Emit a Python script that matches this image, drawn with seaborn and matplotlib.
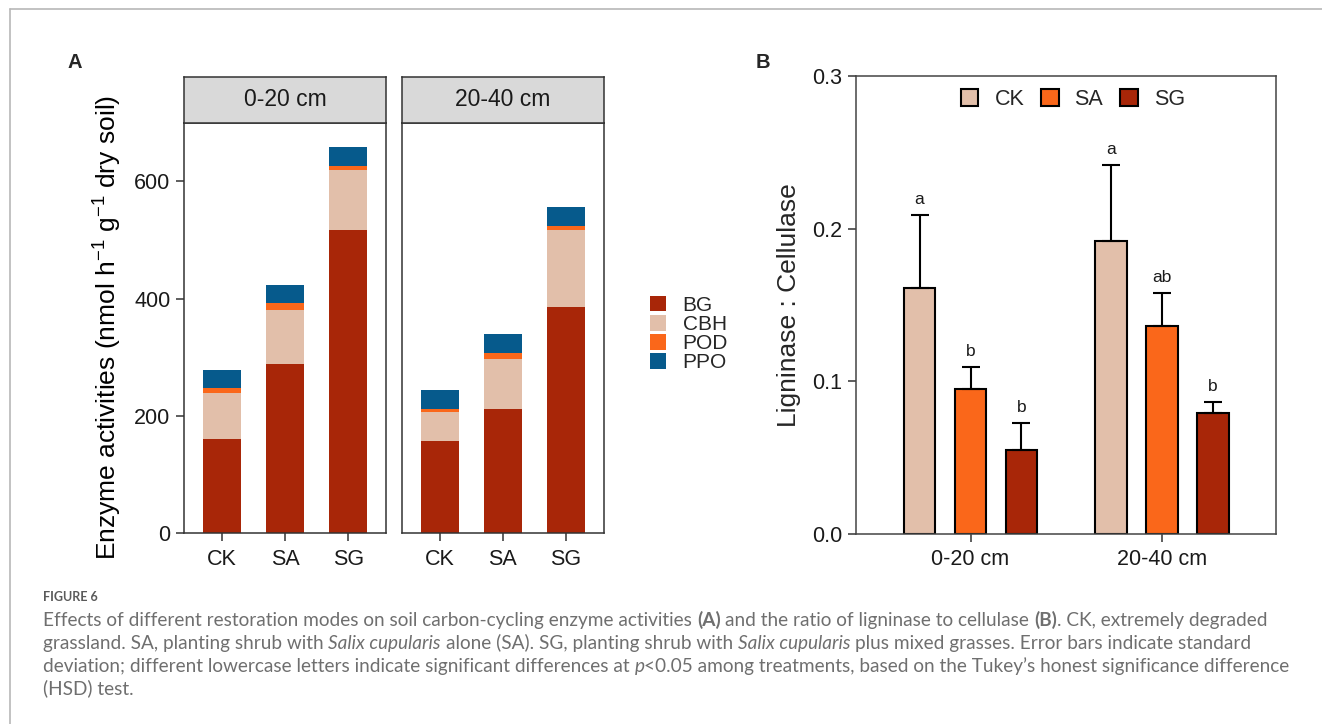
import matplotlib
matplotlib.use("Agg")
import numpy as np
import pandas as pd
import matplotlib.pyplot as plt
import seaborn as sns
from matplotlib.patches import Patch
from matplotlib.lines import Line2D

# ---- values ----
depths = ["0-20 cm", "20-40 cm"]
treatments = ["CK", "SA", "SG"]
enzymes = ["BG", "CBH", "POD", "PPO"]

# panel A, enzyme activities (nmol h-1 g-1 dry soil), per treatment CK/SA/SG
bg_0_20 = [161, 288, 517]
cbh_0_20 = [79, 93, 103]
pod_0_20 = [7, 11, 6]
ppo_0_20 = [32, 31, 32]
bg_20_40 = [157, 212, 385]
cbh_20_40 = [50, 86, 132]
pod_20_40 = [5, 9, 7]
ppo_20_40 = [32, 32, 32]

# panel B, ligninase : cellulase
ratio_0_20 = [0.161, 0.095, 0.055]
sd_0_20 = [0.048, 0.014, 0.0176]
ratio_20_40 = [0.192, 0.136, 0.079]
sd_20_40 = [0.0497, 0.022, 0.0072]
letters_0_20 = ["a", "b", "b"]
letters_20_40 = ["a", "ab", "b"]

enzyme_colors = {"BG": "#A82608", "CBH": "#E2BFAA", "POD": "#FA671A", "PPO": "#065A8C"}
treat_colors = ["#E2BFAA", "#FA671A", "#A82608"]

W, H = 1322, 724
sns.set_style("white")
plt.rcParams["font.family"] = ["Liberation Sans", "DejaVu Sans"]
plt.rcParams["mathtext.fontset"] = "custom"
plt.rcParams["mathtext.rm"] = "Liberation Sans"
plt.rcParams["mathtext.it"] = "Liberation Sans:italic"
plt.rcParams["mathtext.bf"] = "Liberation Sans:bold"

fig = plt.figure(figsize=(W / 100, H / 100), dpi=100)


def px_axes(x0, y0, x1, y1):
    return fig.add_axes([x0 / W, 1 - y1 / H, (x1 - x0) / W, (y1 - y0) / H])


def style_frame(ax, color="#333333", lw=1.1):
    for s in ax.spines.values():
        s.set_visible(True)
        s.set_color(color)
        s.set_linewidth(lw)


# ---- panel A: stacked bars, faceted by depth ----
rows = []
layers = {
    "0-20 cm": [bg_0_20, cbh_0_20, pod_0_20, ppo_0_20],
    "20-40 cm": [bg_20_40, cbh_20_40, pod_20_40, ppo_20_40],
}
for depth in depths:
    for enz, vals in zip(enzymes, layers[depth]):
        for t, v in zip(treatments, vals):
            rows.append({"depth": depth, "enzyme": enz, "treatment": t, "activity": v})
dfA = pd.DataFrame(rows)
dfA["top"] = dfA.groupby(["depth", "treatment"])["activity"].cumsum()

panel_x = [(184.3, 386.2), (401.8, 604.0)]
for i, depth in enumerate(depths):
    x0, x1 = panel_x[i]
    ax = px_axes(x0, 122.7, x1, 533.3)
    sub = dfA[dfA["depth"] == depth]
    # draw from the cumulative top downwards so each layer shows
    for enz in reversed(enzymes):
        d = sub[sub["enzyme"] == enz]
        sns.barplot(data=d, x="treatment", y="top", order=treatments,
                    color=enzyme_colors[enz], width=0.6, saturation=1,
                    linewidth=0, errorbar=None, ax=ax)
    ax.set_xlim(-0.6, 2.6)
    ax.set_ylim(0, 700)
    ax.set_yticks([0, 200, 400, 600])
    ax.set_xlabel("")
    ax.set_ylabel("")
    style_frame(ax)
    ax.tick_params(axis="both", direction="out", length=6, width=1.1,
                   color="#333333", labelcolor="#1a1a1a")
    ax.tick_params(axis="y", labelsize=15.5, pad=4, left=True)
    ax.tick_params(axis="x", labelsize=15.5, pad=5.5, bottom=True)
    if i == 1:
        ax.tick_params(axis="y", left=False, labelleft=False)

    strip = px_axes(x0, 77.2, x1, 122.7)
    strip.set_facecolor("#D9D9D9")
    strip.set_xticks([])
    strip.set_yticks([])
    style_frame(strip)
    strip.text(0.5, 0.5, depth, ha="center", va="center", fontsize=16.5,
               color="#1a1a1a", transform=strip.transAxes)

fig.text(107.5 / W, 1 - 327.5 / H,
         "Enzyme activities (nmol h$^{-1}$ g$^{-1}$ dry soil)",
         rotation=90, ha="center", va="center", fontsize=19, color="black")

handles_A = [Patch(facecolor=enzyme_colors[e], edgecolor="none") for e in enzymes]
fig.legend(handles_A, enzymes, loc="center left",
           bbox_to_anchor=(650 / W, 1 - 334 / H), frameon=False, fontsize=15,
           handlelength=0.77, handleheight=0.77, handletextpad=0.8,
           labelspacing=0.0, borderpad=0, borderaxespad=0)

fig.text(67 / W, 1 - 62 / H, "A", fontsize=14.5, fontweight="bold",
         ha="left", va="center")

# ---- panel B: grouped bars with SD and letters ----
dfB = pd.DataFrame({
    "depth": np.repeat(depths, len(treatments)),
    "treatment": treatments * len(depths),
    "ratio": ratio_0_20 + ratio_20_40,
    "sd": sd_0_20 + sd_20_40,
    "letter": letters_0_20 + letters_20_40,
})

axB = px_axes(855.8, 76.2, 1276.4, 533.5)
sns.barplot(data=dfB, x="depth", y="ratio", hue="treatment", order=depths,
            hue_order=treatments, palette=treat_colors, width=0.8, gap=0.375,
            saturation=1, edgecolor="black", linewidth=1.5, errorbar=None,
            legend=False, ax=axB)

for t, cont in zip(treatments, axB.containers):
    for depth, bar in zip(depths, cont):
        row = dfB[(dfB["treatment"] == t) & (dfB["depth"] == depth)].iloc[0]
        xc = bar.get_x() + bar.get_width() / 2
        h = bar.get_height()
        axB.errorbar(xc, h, yerr=[[0], [row["sd"]]], fmt="none", ecolor="black",
                     elinewidth=1.5, capsize=6.5, capthick=1.5, zorder=1)
        axB.text(xc, h + row["sd"] + 0.0072, row["letter"], ha="center",
                 va="baseline", fontsize=12.5, color="#1a1a1a")

axB.set_xlim(-0.6, 1.6)
axB.set_ylim(0, 0.3)
axB.set_yticks([0, 0.1, 0.2, 0.3])
axB.set_yticklabels(["0.0", "0.1", "0.2", "0.3"])
axB.set_xlabel("")
axB.set_ylabel("Ligninase : Cellulase", fontsize=19, labelpad=8)
style_frame(axB, color="#444444", lw=1.1)
axB.tick_params(axis="both", direction="out", length=6, width=1.1,
                color="#333333", labelcolor="#1a1a1a", labelsize=15.5)
axB.tick_params(axis="y", pad=4, left=True)
axB.tick_params(axis="x", pad=5.5, bottom=True)

handles_B = [Patch(facecolor=c, edgecolor="black", linewidth=1.5) for c in treat_colors]
axB.legend(handles_B, treatments, loc="center", ncol=3,
           bbox_to_anchor=(1073 / W, 1 - 99.5 / H), bbox_transform=fig.transFigure,
           frameon=False, fontsize=15.5, handlelength=0.8, handleheight=0.8,
           handletextpad=0.74, columnspacing=0.8, borderpad=0, borderaxespad=0)

fig.text(756 / W, 1 - 62 / H, "B", fontsize=14.5, fontweight="bold",
         ha="left", va="center")

# ---- caption and frame ----
frame_col = "#b8b8b8"
fig.add_artist(Line2D([10 / W, 1], [1 - 9 / H, 1 - 9 / H], color=frame_col, lw=1.2))
fig.add_artist(Line2D([10 / W, 10 / W], [0, 1 - 9 / H], color=frame_col, lw=1.2))

renderer = fig.canvas.get_renderer()
cap_col = "#6f6f6f"
cap_family = ["Lato", "DejaVu Sans"]

line1 = [("Effects of different restoration modes on soil carbon-cycling enzyme activities ", "normal", "normal"),
         ("(A)", "bold", "normal"),
         (" and the ratio of ligninase to cellulase ", "normal", "normal"),
         ("(B)", "bold", "normal"),
         (". CK, extremely degraded", "normal", "normal")]
line2 = [("grassland. SA, planting shrub with ", "normal", "normal"),
         ("Salix cupularis", "normal", "italic"),
         (" alone (SA). SG, planting shrub with ", "normal", "normal"),
         ("Salix cupularis", "normal", "italic"),
         (" plus mixed grasses. Error bars indicate standard", "normal", "normal")]
line3 = [("deviation; different lowercase letters indicate significant differences at ", "normal", "normal"),
         ("p", "normal", "italic"),
         ("<0.05 among treatments, based on the Tukey\u2019s honest significance difference", "normal", "normal")]
line4 = [("(HSD) test.", "normal", "normal")]


def text_width(s, fs, weight="normal", style="normal"):
    t = fig.text(0, 0, s, fontsize=fs, family=cap_family, weight=weight, style=style)
    w = t.get_window_extent(renderer).width
    t.remove()
    return w


# size the caption so its first line spans the same width as in the figure
probe = 12.0
w1 = text_width("".join(r[0] for r in line1), probe)
cap_fs = probe * (1268 - 43) / w1


def draw_runs(x, baseline, runs):
    space = text_width("n n", cap_fs) - text_width("nn", cap_fs)
    for txt, weight, style in runs:
        lead = len(txt) - len(txt.lstrip(" "))
        trail = len(txt) - len(txt.rstrip(" "))
        x += lead * space
        core = txt.strip(" ")
        t = fig.text(x / W, 1 - baseline / H, core, fontsize=cap_fs, family=cap_family,
                     weight=weight, style=style, color=cap_col, ha="left", va="baseline")
        x = t.get_window_extent(renderer).x1 + trail * space


fig.text(43 / W, 1 - 601 / H, "FIGURE 6", fontsize=9, family=cap_family,
         weight="bold", color="#5a5a5a", ha="left", va="baseline")
for base, runs in zip([626, 649, 672, 694], [line1, line2, line3, line4]):
    draw_runs(43, base, runs)

fig.savefig("out.png", dpi=100)
